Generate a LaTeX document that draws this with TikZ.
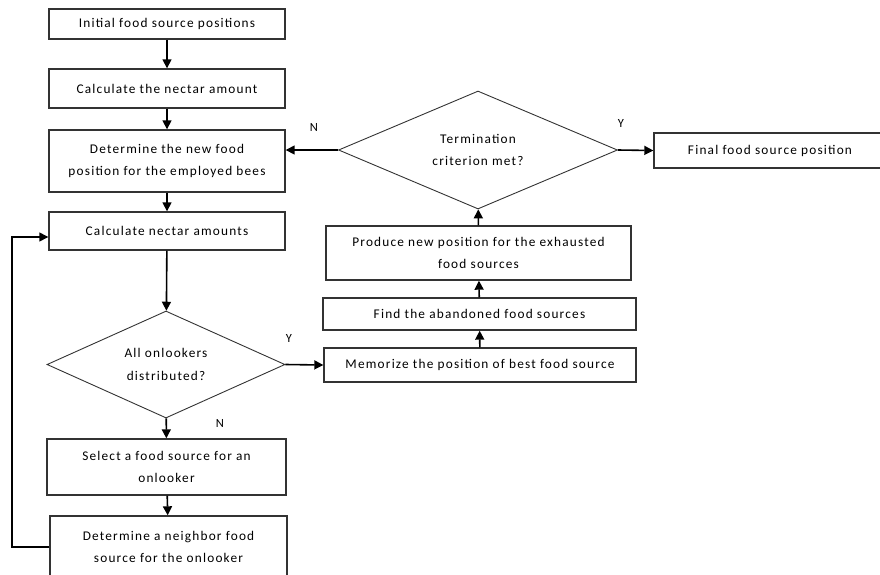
\documentclass[tikz,border=0pt]{standalone}
\usepackage{fontspec}
\setmainfont[LetterSpace=9]{Carlito}
\usepackage{tikz}
\usetikzlibrary{arrows.meta}
\usetikzlibrary{shapes.geometric}

\begin{document}
\begin{tikzpicture}[x=1pt,y=-1pt]
        \tikzset{process/.style = {shape=rectangle,draw=black!80,line width=1.4pt,align=center,inner sep=0pt,font=\fontsize{13.3}{22.5}\selectfont}}
        \tikzset{decision/.style = {shape=diamond,aspect=2.3,draw=black!80,line width=0.9pt,align=center,inner sep=0pt,font=\fontsize{13.3}{22.5}\selectfont}}
        \tikzset{edge/.style = {line width=1.6pt,-{Triangle[length=9pt,width=9pt]}}}
        \tikzset{yn/.style = {font=\fontsize{12.5}{14}\selectfont}}
        \useasboundingbox (0,0) rectangle (880,574);
        \clip (0,0) rectangle (880,574);
        % left column
        \node[process,minimum width=236,minimum height=30] (init) at (167,24) {Initial food source positions};
        \node[process,minimum width=236,minimum height=39] (nectar) at (167,88.5) {Calculate the nectar amount};
        \node[process,minimum width=236,minimum height=62] (employed) at (167,161) {Determine the new food\\position for the employed bees};
        \node[process,minimum width=236,minimum height=38] (amounts) at (167,231) {Calculate nectar amounts};
        \node[decision,minimum width=238,minimum height=107] (distrib) at (166,364.5) {All onlookers\\distributed?};
        \node[process,minimum width=239,minimum height=56] (select) at (166.5,467) {Select a food source for an\\onlooker};
        \node[process,minimum width=237,minimum height=62] (neighbor) at (168.5,547) {Determine a neighbor food\\source for the onlooker};
        % right column
        \node[decision,minimum width=279,minimum height=118] (term) at (478,150) {Termination\\criterion met?};
        \node[process,minimum width=232,minimum height=35] (final) at (770,150.5) {Final food source position};
        \node[process,minimum width=305,minimum height=54] (produce) at (478.5,253) {Produce new position for the exhausted\\food sources};
        \node[process,minimum width=313,minimum height=32] (find) at (479.5,314) {Find the abandoned food sources};
        \node[process,minimum width=312,minimum height=34] (memorize) at (480,365) {Memorize the position of best food source};
        \coordinate (back) at (12,547);
        \draw[edge] (init) -- (nectar);
        \draw[edge] (nectar) -- (employed);
        \draw[edge] (employed) -- (amounts);
        \draw[edge] (amounts) -- (distrib);
        \draw[edge] (distrib) -- (select);
        \draw[edge] (select) -- (neighbor);
        \draw[line width=1.4pt,-{Triangle[length=9pt,width=9pt]}] (neighbor.west) -- (back) |- ([yshift=-6pt]amounts.west);
        \draw[edge] (distrib.east) -- (memorize.west);
        \draw[edge] (memorize) -- (find);
        \draw[edge] (find) -- (produce);
        \draw[edge] (produce) -- (term);
        \draw[edge] (term.west) -- (term.west -| employed.east);
        \draw[edge] (term.east) -- (final.west);
        \node[yn] (n1) at (314,127) {N};
        \node[yn] (y1) at (621,123) {Y};
        \node[yn] (y2) at (289,338) {Y};
        \node[yn] (n2) at (220,423) {N};
\end{tikzpicture}
\end{document}
